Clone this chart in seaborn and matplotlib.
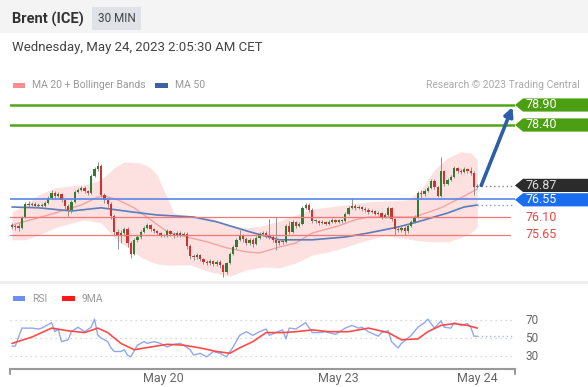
import matplotlib
matplotlib.use("Agg")
import matplotlib.pyplot as plt
import matplotlib.transforms as mtransforms
from matplotlib.patches import Rectangle, Polygon
from matplotlib.lines import Line2D
import numpy as np
import seaborn as sns

# ---- candles (30 min) ----
closes = [75.85, 75.88, 75.82, 76.10, 76.43, 76.40, 76.43, 76.38, 76.40, 76.38,
          76.45, 76.58, 76.70, 76.63, 76.68, 76.53, 76.38, 76.28, 76.48, 76.73,
          76.78, 76.83, 76.75, 76.70, 77.13, 77.30, 77.38, 76.65, 76.53, 76.43,
          76.13, 75.73, 75.63, 75.70, 75.80, 75.45, 75.18, 75.53, 75.60, 75.73,
          75.83, 75.90, 75.80, 75.75, 75.70, 75.65, 75.63, 75.75, 75.68, 75.63,
          75.70, 75.65, 75.68, 75.38, 75.13, 75.10, 75.15, 75.05, 74.98, 74.95,
          75.00, 74.93, 74.98, 74.90, 74.73, 74.95, 75.18, 75.35, 75.53, 75.63,
          75.55, 75.45, 75.53, 75.43, 75.58, 75.68, 75.70, 75.63, 75.60, 75.53,
          75.45, 75.50, 75.48, 75.88, 75.73, 75.98, 75.88, 75.93, 76.33, 76.40,
          76.28, 76.00, 76.00, 75.95, 75.98, 75.93, 75.98, 76.03, 75.98, 76.03,
          76.00, 76.18, 76.33, 76.38, 76.33, 76.35, 76.30, 76.28, 76.23, 76.25,
          76.18, 76.20, 76.10, 76.15, 76.33, 76.05, 75.80, 75.78, 75.83, 75.75,
          75.88, 75.98, 76.10, 76.70, 76.68, 76.75, 76.83, 77.00, 76.85, 76.63,
          77.25, 76.93, 77.03, 77.10, 77.33, 77.25, 77.23, 77.30, 77.25, 77.20,
          76.85, 76.87]
first_open = 75.90
highs = [75.95, 75.93, 75.95, 76.13, 76.48, 76.50, 76.48, 76.47, 76.45, 76.45,
         76.50, 76.62, 76.78, 76.75, 76.72, 76.70, 76.55, 76.42, 76.52, 76.78,
         76.83, 76.88, 76.87, 76.78, 77.18, 77.35, 77.48, 77.42, 76.70, 76.58,
         76.48, 76.18, 75.80, 75.78, 75.85, 75.85, 75.50, 75.58, 75.65, 75.78,
         75.88, 75.95, 75.93, 75.83, 75.78, 75.73, 75.68, 75.80, 75.78, 75.72,
         75.75, 75.75, 75.73, 75.72, 75.42, 75.18, 75.20, 75.18, 75.08, 75.03,
         75.05, 75.03, 75.03, 75.02, 74.93, 74.98, 75.22, 75.40, 75.58, 75.78,
         75.68, 75.60, 75.58, 75.58, 75.62, 75.72, 75.75, 75.75, 76.05, 75.65,
         76.10, 75.55, 75.55, 75.92, 76.00, 76.02, 76.00, 75.98, 76.37, 76.45,
         76.45, 76.32, 76.05, 76.03, 76.02, 76.01, 76.02, 76.07, 76.06, 76.06,
         76.06, 76.22, 76.37, 76.58, 76.42, 76.40, 76.38, 76.35, 76.32, 76.30,
         76.28, 76.25, 76.23, 76.20, 76.37, 76.35, 76.08, 75.85, 75.88, 75.87,
         75.92, 76.02, 76.15, 76.75, 76.78, 76.80, 76.88, 77.05, 77.05, 76.88,
         77.60, 77.28, 77.08, 77.15, 77.37, 77.36, 77.30, 77.35, 77.33, 77.35,
         77.25, 76.92]
lows = [75.80, 75.78, 75.75, 75.80, 76.08, 76.35, 76.37, 76.33, 76.35, 76.33,
        76.35, 76.42, 76.55, 76.58, 76.60, 76.48, 76.30, 76.12, 76.20, 76.45,
        76.70, 76.75, 76.70, 76.65, 76.68, 77.10, 77.25, 76.60, 76.45, 76.35,
        76.05, 75.65, 75.30, 75.45, 75.62, 75.35, 75.08, 75.15, 75.48, 75.55,
        75.70, 75.80, 75.75, 75.70, 75.65, 75.60, 75.60, 75.60, 75.63, 75.58,
        75.60, 75.60, 75.62, 75.30, 75.05, 75.03, 75.05, 75.00, 74.93, 74.90,
        74.90, 74.88, 74.88, 74.83, 74.60, 74.68, 74.92, 75.15, 75.30, 75.50,
        75.48, 75.40, 75.40, 75.35, 75.40, 75.55, 75.62, 75.58, 75.55, 75.48,
        75.28, 75.40, 75.42, 75.45, 75.68, 75.70, 75.83, 75.85, 75.90, 76.30,
        76.22, 75.95, 75.95, 75.90, 75.92, 75.90, 75.90, 75.95, 75.95, 75.95,
        75.96, 75.97, 76.15, 76.30, 76.28, 76.30, 76.26, 76.23, 76.18, 76.20,
        76.15, 76.15, 76.06, 76.07, 76.12, 76.00, 75.65, 75.72, 75.73, 75.65,
        75.70, 75.85, 75.95, 76.08, 76.55, 76.62, 76.72, 76.80, 76.80, 76.60,
        76.60, 76.88, 76.90, 77.00, 77.08, 77.20, 77.18, 77.20, 77.20, 77.15,
        76.65, 76.82]

# ---- indicators (sampled along the candles) ----
ma20_idx = [0, 11, 21, 26, 28, 32, 37, 42, 47, 53, 59, 65, 71, 75, 81, 86, 91,
            99, 104, 108, 115, 122, 130, 136, 141]
ma20 = [75.90, 76.15, 76.40, 76.60, 76.63, 76.53, 76.33, 76.03, 75.73, 75.60,
        75.48, 75.33, 75.23, 75.20, 75.35, 75.45, 75.70, 75.88, 76.03, 76.10,
        76.10, 76.10, 76.33, 76.58, 76.80]
ma50_idx = [0, 8, 18, 27, 36, 44, 55, 62, 68, 72, 81, 91, 101, 108, 117, 123,
            132, 137, 141]
ma50 = [76.35, 76.33, 76.25, 76.33, 76.23, 76.15, 76.10, 75.98, 75.83, 75.73,
        75.53, 75.53, 75.60, 75.70, 75.85, 75.98, 76.20, 76.35, 76.40]
bb_idx = [0, 4, 8, 13, 18, 22, 27, 31, 34, 39, 42, 44, 47, 49, 54, 60, 66, 71,
          76, 81, 86, 91, 96, 101, 108, 113, 120, 124, 128, 132, 136, 139, 141]
bb_upper = [76.23, 76.40, 76.65, 76.83, 76.88, 76.90, 77.03, 77.33, 77.48,
            77.45, 77.33, 77.15, 76.58, 76.20, 76.13, 76.08, 75.90, 75.83,
            75.88, 76.00, 76.15, 76.30, 76.35, 76.40, 76.48, 76.50, 76.53,
            76.78, 77.28, 77.58, 77.73, 77.70, 77.53]
bb_lower = [75.53, 75.53, 75.65, 75.83, 75.95, 76.03, 75.95, 75.60, 75.40,
            75.10, 74.98, 74.93, 74.90, 74.90, 74.90, 74.73, 74.62, 74.78,
            74.85, 74.83, 74.95, 75.15, 75.23, 75.35, 75.53, 75.63, 75.55,
            75.50, 75.48, 75.48, 75.58, 75.70, 75.85]

rsi_idx = [0, 1, 3, 5, 6, 8, 9, 12, 13, 14, 15, 17, 18, 20, 22, 24, 25, 26, 27,
           29, 30, 31, 33, 34, 35, 36, 38, 40, 41, 43, 45, 47, 49, 51, 52, 54,
           55, 57, 59, 61, 63, 65, 67, 69, 71, 73, 75, 77, 78, 80, 82, 83, 84,
           86, 89, 91, 93, 95, 98, 101, 103, 105, 106, 108, 111, 112, 114, 115,
           117, 118, 121, 123, 125, 126, 128, 130, 131, 133, 134, 136, 138, 139,
           140, 141]
rsi = [41, 41, 61, 61, 61, 60, 61, 67, 57, 60, 46, 48, 57, 62, 57, 62, 71, 53,
       50, 46, 39, 35, 35, 37, 31, 29, 42, 46, 44, 46, 44, 40, 43, 44, 42, 37,
       31, 33, 29, 35, 33, 29, 40, 53, 57, 53, 57, 60, 53, 56, 59, 49, 61, 60,
       67, 56, 56, 57, 54, 61, 64, 61, 62, 57, 52, 56, 58, 46, 39, 44, 53, 62,
       67, 71, 61, 69, 62, 61, 67, 64, 66, 62, 52, 52]
rsi9_idx = [0, 6, 12, 17, 22, 26, 29, 33, 37, 42, 47, 52, 57, 62, 66, 69, 73,
            77, 82, 86, 91, 96, 102, 108, 114, 118, 123, 126, 130, 134, 138, 141]
rsi9 = [44, 51, 61, 58, 56, 61, 56, 44, 37, 40, 43, 42, 39, 35, 33, 39, 46, 56,
        56, 57, 59, 57, 57, 61, 56, 48, 49, 57, 64, 66, 64, 61]
rsi_levels = [70, 50, 30]

# ---- levels ----
resistances = [78.90, 78.40]
pivot = 76.55
supports = [76.10, 75.65]
last_price = 76.87

tick_idx = [46, 99, 141]
tick_labels = ["May 20", "May 23", "May 24"]

# ---- layout helpers (pixels of a 588x387 picture) ----
W, H = 588, 387


def box(x0, y0, x1, y1):
    return [x0 / W, 1 - y1 / H, (x1 - x0) / W, (y1 - y0) / H]


def fpt(x, y):
    return x / W, 1 - y / H


sns.set_theme(style="white")
plt.rcParams['font.family'] = ['Roboto', 'DejaVu Sans']

fig = plt.figure(figsize=(5.88, 3.87), dpi=100)
fig.patch.set_facecolor('white')

# header
fig.add_artist(Rectangle(fpt(0, 33), 1, 33 / H, transform=fig.transFigure,
                         color='#f4f4f4', lw=0, zorder=0))
fig.text(*fpt(12, 19), "Brent (ICE)", fontsize=10.5, weight='bold', color='#333333', va='center')
fig.add_artist(Rectangle(fpt(92, 30), 49 / W, 23 / H, transform=fig.transFigure,
                         color='#dfe2e6', lw=0))
fig.text(*fpt(116.5, 19), "30 MIN", fontsize=8.5, color='#444444', ha='center', va='center')
fig.text(*fpt(12, 47), "Wednesday, May 24, 2023 2:05:30 AM CET", fontsize=9.5,
         color='#444444', va='center')

# legends
fig.add_artist(Rectangle(fpt(13, 88), 12 / W, 5 / H, transform=fig.transFigure, color='#f88e8e', lw=0))
fig.text(*fpt(32, 85.5), "MA 20 + Bollinger Bands", fontsize=7.5, color='#999999', va='center')
fig.add_artist(Rectangle(fpt(155, 88), 13 / W, 5 / H, transform=fig.transFigure, color='#3d62a6', lw=0))
fig.text(*fpt(175, 85.5), "MA 50", fontsize=7.5, color='#999999', va='center')
fig.text(*fpt(580, 85.5), "Research \u00a9 2023 Trading Central", fontsize=7.5,
         color='#aaaaaa', ha='right', va='center')

fig.add_artist(Rectangle(fpt(13, 301), 12 / W, 5 / H, transform=fig.transFigure, color='#6d8ff0', lw=0))
fig.text(*fpt(32, 298.5), "RSI", fontsize=7.5, color='#999999', va='center')
fig.add_artist(Rectangle(fpt(62, 301), 13 / W, 5 / H, transform=fig.transFigure, color='#ff1a1a', lw=0))
fig.text(*fpt(82, 298.5), "9MA", fontsize=7.5, color='#999999', va='center')

# panel separator
fig.add_artist(Line2D([0, 1], [fpt(0, 282)[1]] * 2, transform=fig.transFigure,
                      color='#eeeeee', lw=2))

# candle x -> pixel: 12 + 3.3 * i
step, x0px = 3.3, 12
xlim = ((10 - x0px) / step, (515 - x0px) / step)

# ---- price panel ----
ax = fig.add_axes(box(10, 92, 515, 282))
ax.set_xlim(*xlim)
ax.set_ylim(78.90 - 177 / 40, 78.90 + 13 / 40)
ax.axis('off')

idx = np.arange(len(closes))
opens = np.array([first_open] + closes[:-1])  # each bar opens at the previous close
c = np.array(closes)

ax.fill_between(bb_idx, bb_lower, bb_upper, color='#fde0e0', lw=0, zorder=1)
sns.lineplot(x=ma20_idx, y=ma20, ax=ax, color='#f5a3a3', lw=1.0, zorder=2)
sns.lineplot(x=ma50_idx, y=ma50, ax=ax, color='#5b7dbb', lw=1.2, zorder=2)

up = c >= opens
ax.vlines(idx, lows, highs, color='#909090', lw=0.7, zorder=3)
body_lo = np.minimum(opens, c)
body_h = np.maximum(np.abs(c - opens), 0.02)
ax.bar(idx[up], body_h[up], bottom=body_lo[up], width=0.7, color='#2f7d32', lw=0, zorder=4)
ax.bar(idx[~up], body_h[~up], bottom=body_lo[~up], width=0.7, color='#d32f2f', lw=0, zorder=4)

for r in resistances:
    ax.axhline(r, color='#52a51b', lw=1.8, zorder=5)
ax.axhline(pivot, color='#5b86e8', lw=1.2, zorder=5)
for s in supports:
    ax.axhline(s, xmax=0.99, color='#f27878', lw=0.9, zorder=5)

# last price / MA50 dotted guides
ax.plot([idx[-1], xlim[1]], [last_price, last_price], ls=(0, (1, 2)), color='#888888', lw=1, zorder=5)
ax.plot([idx[-1], xlim[1]], [ma50[-1], ma50[-1]], ls=(0, (1, 2)), color='#8aa0cc', lw=1, zorder=5)

# projection arrow
ax.annotate("", xy=(0.995, resistances[0] - 0.05), xycoords=('axes fraction', 'data'),
            xytext=(idx[-1] + 1.2, last_price + 0.02), textcoords='data',
            arrowprops=dict(arrowstyle='-|>', color='#2d5fa6', lw=2.6, mutation_scale=13,
                            shrinkA=0, shrinkB=0),
            annotation_clip=False, zorder=6)

# right-hand tags
tr = mtransforms.blended_transform_factory(ax.transAxes, ax.transData)
notch, right, half = 8 / 505, (588 - 10) / 505, 0.165


def tag(v, text, face, tcolor):
    pts = [(1.0, v), (1.0 + notch, v + half), (right, v + half), (right, v - half), (1.0 + notch, v - half)]
    ax.add_patch(Polygon(pts, closed=True, transform=tr, color=face, lw=0, clip_on=False, zorder=7))
    ax.text(1.0 + 10 / 505, v, text, transform=tr, color=tcolor, fontsize=9, va='center', zorder=8)


for r in resistances:
    tag(r, f"{r:.2f}", '#4c9e12', 'white')
tag(last_price + 0.02, f"{last_price:.2f}", '#2b2b2b', '#dddddd')
tag(pivot - 0.02, f"{pivot:.2f}", '#1a6cf0', 'white')
for s in supports:
    ax.text(1.0 + 10 / 505, s, f"{s:.2f}", transform=tr, color='#f04646', fontsize=9, va='center')

# ---- RSI panel ----
ax2 = fig.add_axes(box(10, 288, 515, 369))
ax2.set_xlim(*xlim)
ax2.set_ylim(50 - 31 / 0.9, 50 + 50 / 0.9)
ax2.set_facecolor('none')
for sp in ['top', 'left', 'right']:
    ax2.spines[sp].set_visible(False)
ax2.spines['bottom'].set_color('#999999')
ax2.spines['bottom'].set_linewidth(1.5)
ax2.set_yticks([])
ax2.set_xticks(tick_idx)
ax2.set_xticklabels(tick_labels, color='#666666', fontsize=9)
ax2.tick_params(axis='x', length=0, pad=2.5)
for xe in [0, 1]:
    ax2.plot([xe, xe], [0, -0.065], transform=ax2.transAxes, color='#999999', lw=1.5, clip_on=False)

for lv in rsi_levels:
    ax2.axhline(lv, color='#cccccc', lw=0.9, ls=(0, (1, 3)), zorder=1)
    ax2.text(1.02, lv, str(lv), transform=mtransforms.blended_transform_factory(ax2.transAxes, ax2.transData),
             color='#666666', fontsize=8.5, va='center')

sns.lineplot(x=rsi_idx, y=rsi, ax=ax2, color='#8fa8f2', lw=1.0, zorder=2)
sns.lineplot(x=rsi9_idx, y=rsi9, ax=ax2, color='#ff4a4a', lw=1.2, zorder=3)
ax2.plot([rsi_idx[-1], xlim[1]], [rsi[-1], rsi[-1]], ls=(0, (1, 2)), color='#a8b8ee', lw=1, zorder=2)
ax2.set_xlabel("")
ax2.set_ylabel("")

fig.savefig("out.png", dpi=100)
